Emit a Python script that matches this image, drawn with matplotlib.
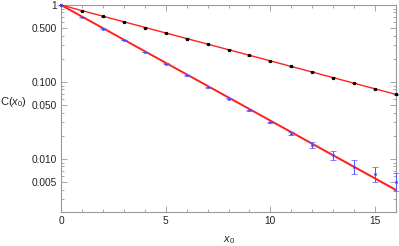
import numpy as np
import matplotlib.pyplot as plt
from matplotlib.ticker import FixedLocator, NullFormatter

plt.rcParams['font.family'] = ['Liberation Sans', 'DejaVu Sans']
plt.rcParams['mathtext.fontset'] = 'custom'
plt.rcParams['mathtext.it'] = 'Liberation Sans:italic'
plt.rcParams['mathtext.rm'] = 'Liberation Sans'

# black series
x_black = [0, 1, 2, 3, 4, 5, 6, 7, 8, 9, 10, 11, 12, 13, 14, 15, 16]
c_black = [1.0, 0.836, 0.713, 0.601, 0.508, 0.433, 0.365, 0.312, 0.263,
           0.222, 0.187, 0.160, 0.135, 0.114, 0.097, 0.081, 0.069]
err_black = [0.0, 0.006, 0.005, 0.004, 0.004, 0.003, 0.003, 0.003, 0.002,
             0.002, 0.002, 0.002, 0.002, 0.001, 0.001, 0.001, 0.001]

# blue series
x_blue = [0, 1, 2, 3, 4, 5, 6, 7, 8, 9, 10, 11, 12, 13, 14, 15, 16]
c_blue = [1.0, 0.698, 0.493, 0.348, 0.245, 0.173, 0.122, 0.0853, 0.0607,
          0.0428, 0.0300, 0.0211, 0.0153, 0.0112, 0.0078, 0.0063, 0.0051]
blue_lo = [0.0, 0.004, 0.003, 0.002, 0.002, 0.0015, 0.001, 0.0008, 0.0007,
           0.0006, 0.0006, 0.0009, 0.0013, 0.0015, 0.0015, 0.0013, 0.0013]
blue_hi = [0.0, 0.004, 0.003, 0.002, 0.002, 0.0015, 0.001, 0.0008, 0.0007,
           0.0006, 0.0006, 0.0011, 0.0015, 0.0014, 0.0019, 0.0016, 0.0014]

# exponential fits C = exp(-m x)
m_black = 0.1671
m_blue = 0.3457
m_blue_err = 0.0018

fig = plt.figure(figsize=(3.99, 2.46), dpi=100)
ax = fig.add_axes([61 / 399, 1 - 212 / 246, 335 / 399, 207 / 246])

xf = np.linspace(0, 16, 200)
ax.fill_between(xf, np.exp(-(m_blue + m_blue_err) * xf), np.exp(-(m_blue - m_blue_err) * xf),
                color='#ff3030', alpha=0.45, lw=0, zorder=2)
ax.plot(xf, np.exp(-m_blue * xf), color='#ff2020', lw=1.4, zorder=3)
ax.plot(xf, np.exp(-m_black * xf), color='#ff2020', lw=1.0, zorder=3)

ax.errorbar(x_black, c_black, yerr=err_black, fmt='s', ms=1.3, color='black',
            ecolor='#333333', elinewidth=0.6, capsize=1.5, capthick=0.6, zorder=4, clip_on=False)
ax.errorbar(x_blue, c_blue, yerr=[blue_lo, blue_hi], fmt='s', ms=1.6, color='#1a1aff',
            mec='#7070ff', mew=0.5, ecolor='#5050ff', elinewidth=0.7, capsize=2,
            capthick=0.7, zorder=4, clip_on=False)

ax.set_yscale('log')
ax.set_xlim(0, 16)
ax.set_ylim(0.00205, 1.0)

ax.xaxis.set_major_locator(FixedLocator([0, 5, 10, 15]))
ax.xaxis.set_minor_locator(FixedLocator([i for i in range(17) if i % 5]))
yt = [1, 0.5, 0.1, 0.05, 0.01, 0.005]
ax.yaxis.set_major_locator(FixedLocator(yt))
ax.set_yticklabels(['1', '0.500', '0.100', '0.050', '0.010', '0.005'])
minors = [k * 10.0 ** e for e in (-3, -2, -1) for k in range(2, 10)]
ax.yaxis.set_minor_locator(FixedLocator(minors))
ax.yaxis.set_minor_formatter(NullFormatter())

for s in ax.spines.values():
    s.set_color('#999999')
    s.set_linewidth(0.8)
ax.tick_params(which='both', direction='in', top=True, right=True, color='#999999',
               labelsize=7.3, labelcolor='#222222', width=0.6)
ax.tick_params(which='major', length=4, pad=3)
ax.tick_params(which='minor', length=2)

ax.set_xlabel(r'$x_0$', fontsize=8, color='#222222', labelpad=6)
fig.text(0.0, 1 - 102 / 246, r'C($x_0$)', fontsize=8, color='#222222', va='center', ha='left')

fig.savefig('out.png', dpi=100)
